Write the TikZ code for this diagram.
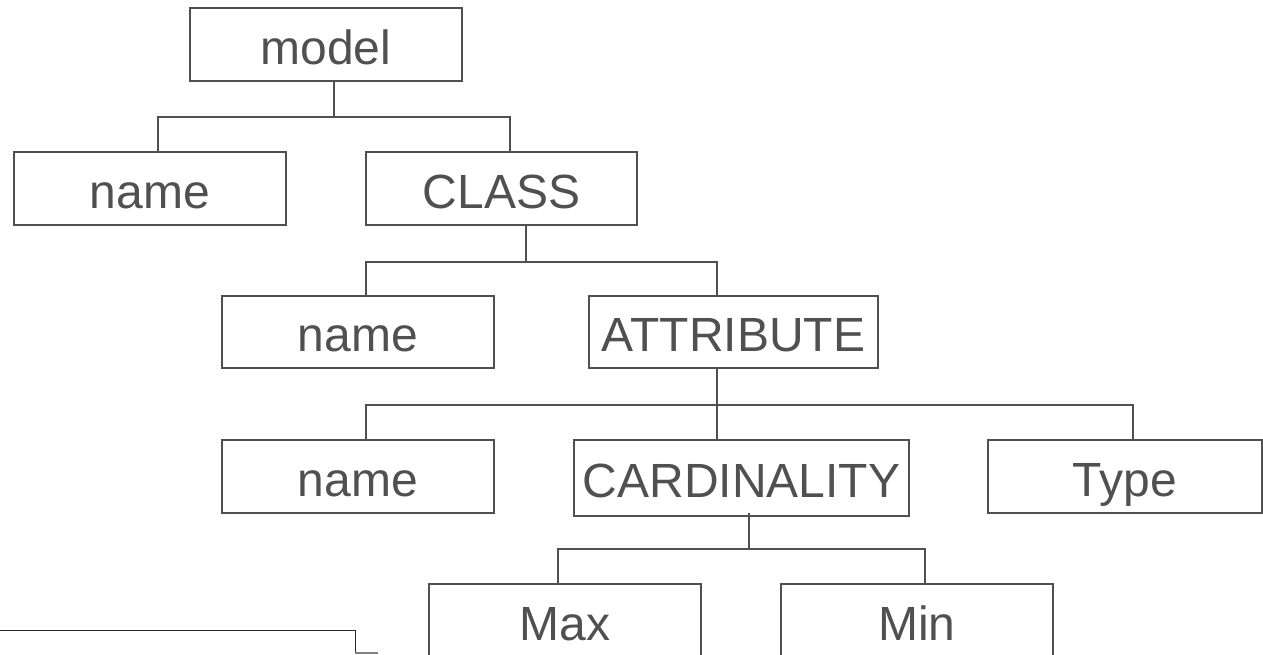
\documentclass[tikz,border=0pt]{standalone}
\usepackage{fontspec}
\setmainfont{Liberation Sans}
\definecolor{ink}{HTML}{505050}
\begin{document}
\begin{tikzpicture}[x=1pt,y=-1pt,
  treebox/.style={draw=ink, line width=2.4pt, text=ink, inner sep=0pt,
    minimum height=73pt, text height=39.5pt, text depth=0pt,
    font=\fontsize{48}{57}\selectfont},
  link/.style={draw=ink, line width=2.4pt}]
\useasboundingbox (0,0) rectangle (1263,655);
\node[treebox, minimum width=272pt] (model) at (326,44.5) {model};
\node[treebox, minimum width=272pt] (name1) at (150,188.5) {name};
\node[treebox, minimum width=271pt] (class) at (501.5,188.5) {CLASS};
\node[treebox, minimum width=272pt, minimum height=72pt] (name2) at (358,332) {name};
\node[treebox, minimum width=289pt, minimum height=72pt] (attr) at (733.5,332) {ATTRIBUTE};
\node[treebox, minimum width=272pt] (name3) at (358,476.5) {name};
\node[treebox, minimum width=335pt, minimum height=76pt] (card) at (741.5,478) {CARDINALITY};
\node[treebox, minimum width=274pt] (type) at (1125,476.5) {Type};
\node[treebox, minimum width=272pt] (max) at (565,620.5) {Max};
\node[treebox, minimum width=272pt] (min) at (917,620.5) {Min};
% connectors
\draw[link] ([xshift=8pt]model.south) -- ++(0,35) coordinate (j1);
\draw[link] ([xshift=8pt]name1.north) |- (j1) -| ([xshift=8.5pt]class.north);
\draw[link] ([xshift=24.5pt]class.south) -- ++(0,36) coordinate (j2);
\draw[link] ([xshift=8pt]name2.north) |- (j2) -| ([xshift=-16.5pt]attr.north);
\draw[link] ([xshift=-16.5pt]attr.south) -- ++(0,36) coordinate (j3);
\draw[link] ([xshift=8pt]name3.north) |- (j3) -| ([xshift=8pt]type.north);
\draw[link] (j3) -- (j3 |- card.north);
\draw[link] ([xshift=7.5pt,yshift=4pt]card.south) -- ++(0,36) coordinate (j4);
\draw[link] ([xshift=-7pt]max.north) |- (j4) -| ([xshift=8pt]min.north);
% stray line at lower left
\coordinate (s1) at (0,630);
\coordinate (s2) at (355,630);
\coordinate (s3) at (355,653);
\coordinate (s4) at (378,653);
\draw[black!85, line width=1pt] (s1) -- (s2) -- (s3);
\draw[black!50, line width=1.5pt] (s3) -- (s4);
\end{tikzpicture}
\end{document}
